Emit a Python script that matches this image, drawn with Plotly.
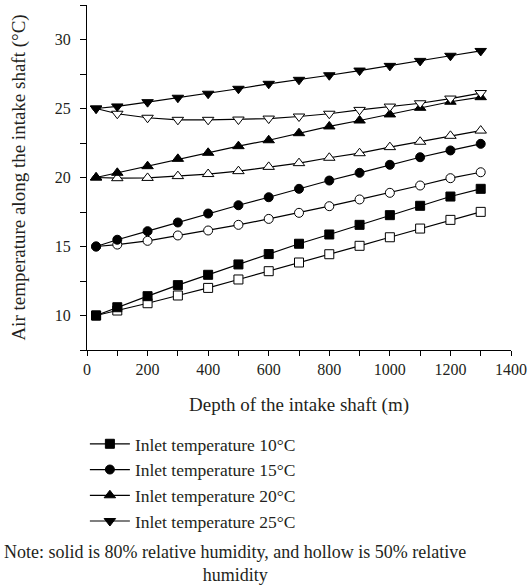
import plotly.graph_objects as go

depth = [30, 100, 200, 300, 400, 500, 600, 700, 800, 900, 1000, 1100, 1200, 1300]

solid_10 = [10.0, 10.6, 11.4, 12.2, 12.95, 13.7, 14.45, 15.2, 15.87, 16.57, 17.27, 17.95, 18.62, 19.18]
hollow_10 = [10.0, 10.36, 10.89, 11.45, 12.0, 12.61, 13.21, 13.84, 14.44, 15.05, 15.67, 16.3, 16.93, 17.51]
solid_15 = [15.0, 15.49, 16.11, 16.74, 17.39, 17.99, 18.57, 19.18, 19.78, 20.34, 20.92, 21.47, 21.96, 22.44]
hollow_15 = [15.0, 15.14, 15.41, 15.8, 16.16, 16.57, 17.0, 17.44, 17.92, 18.41, 18.89, 19.42, 19.95, 20.38]
solid_20 = [20.0, 20.34, 20.82, 21.35, 21.79, 22.27, 22.7, 23.21, 23.7, 24.13, 24.57, 25.05, 25.49, 25.82]
hollow_20 = [20.0, 19.95, 19.97, 20.1, 20.25, 20.46, 20.77, 21.04, 21.43, 21.76, 22.2, 22.59, 23.02, 23.4]
solid_25 = [25.0, 25.15, 25.46, 25.78, 26.07, 26.43, 26.79, 27.08, 27.41, 27.75, 28.09, 28.45, 28.82, 29.17]
hollow_25 = [25.0, 24.62, 24.33, 24.18, 24.18, 24.2, 24.27, 24.42, 24.62, 24.9, 25.14, 25.38, 25.72, 26.12]

names = ["Inlet temperature 10°C", "Inlet temperature 15°C",
         "Inlet temperature 20°C", "Inlet temperature 25°C"]
symbols = ["square", "circle", "triangle-up", "triangle-down"]
solids = [solid_10, solid_15, solid_20, solid_25]
hollows = [hollow_10, hollow_15, hollow_20, hollow_25]

FONT = "Liberation Serif"
TXT = "#231f20"

fig = go.Figure()
for i in range(4):
    size = 9 if symbols[i] in ("square", "circle") else 10
    fig.add_trace(go.Scatter(
        x=depth, y=hollows[i], mode="lines+markers", showlegend=False,
        line=dict(color="black", width=1.2),
        marker=dict(symbol=symbols[i], size=size, color="white",
                    line=dict(color="black", width=1)),
    ))
    fig.add_trace(go.Scatter(
        x=depth, y=solids[i], mode="lines+markers", name=names[i],
        legendgroup=f"g{i}",
        line=dict(color="black", width=1.2),
        marker=dict(symbol=symbols[i], size=size, color="black",
                    line=dict(color="black", width=1)),
    ))

fig.update_layout(
    width=532, height=586,
    margin=dict(l=87, r=17, t=5, b=236),
    paper_bgcolor="white", plot_bgcolor="white",
    font=dict(family=FONT, size=16, color=TXT),
    showlegend=True,
    legend=dict(x=-0.005, y=-0.22, xanchor="left", yanchor="top",
                traceorder="grouped", tracegroupgap=0, itemwidth=40,
                bgcolor="rgba(0,0,0,0)", font=dict(family=FONT, size=17.5, color=TXT)),
    xaxis=dict(range=[0, 1400], dtick=200, tick0=0, showgrid=False, zeroline=False,
               showline=True, linecolor="black", linewidth=1,
               ticks="outside", ticklen=5, tickcolor="black",
               minor=dict(dtick=100, ticks="outside", ticklen=5, tickcolor="black"),
               title=dict(text="Depth of the intake shaft (m)", standoff=20),
               tickfont=dict(size=16)),
    yaxis=dict(range=[7.5, 32.5], dtick=5, tick0=0, showgrid=False, zeroline=False,
               showline=True, linecolor="black", linewidth=1,
               ticks="outside", ticklen=6, tickcolor="black",
               ticklabelstandoff=6,
               minor=dict(dtick=2.5, ticks="outside", ticklen=6, tickcolor="black"),
               title=dict(text="Air temperature along the intake shaft (°C)", standoff=24),
               tickfont=dict(size=16)),
    annotations=[dict(
        text="Note: solid is 80% relative humidity, and hollow is 50% relative<br>humidity",
        xref="paper", yref="paper", x=0.35, y=-0.55, xanchor="center", yanchor="top",
        showarrow=False, align="center", font=dict(family=FONT, size=18, color=TXT))],
)

fig.write_html("out.html")
